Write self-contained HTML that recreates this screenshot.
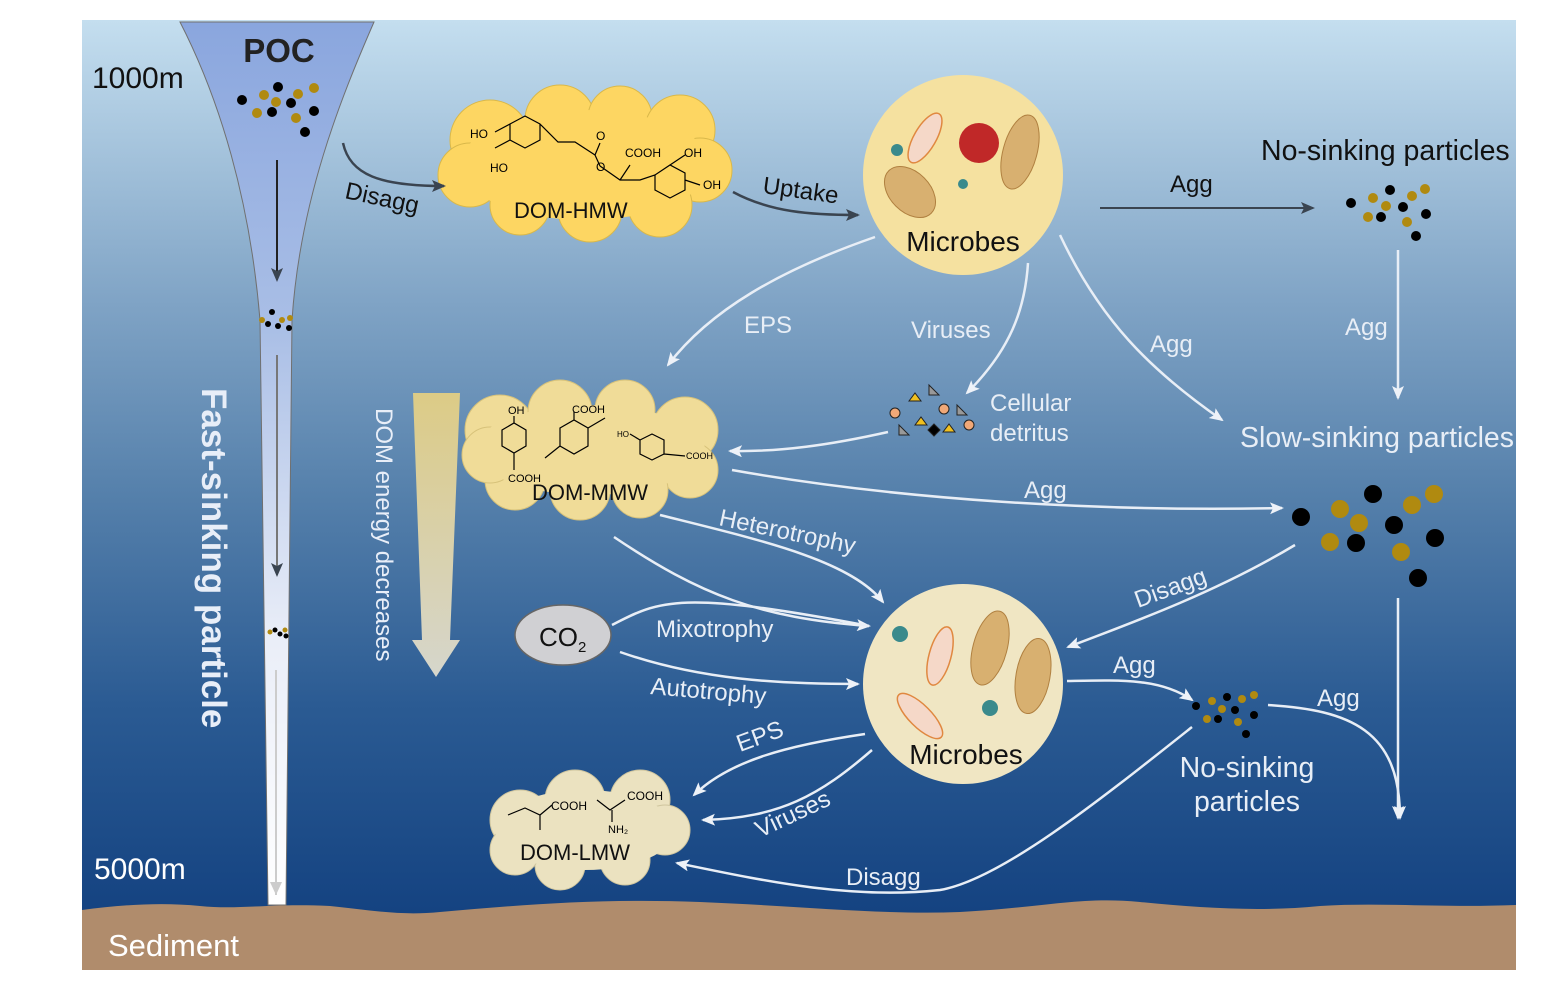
<!DOCTYPE html>
<html><head><meta charset="utf-8"><style>html,body{margin:0;padding:0;background:#fff}svg{display:block}text{font-family:"Liberation Sans",sans-serif}</style></head><body>
<svg width="1561" height="999" viewBox="0 0 1561 999" xmlns="http://www.w3.org/2000/svg">
<defs>
<linearGradient id="bg" x1="0" y1="0" x2="0" y2="1">
<stop offset="0" stop-color="#c4deef"/><stop offset="0.3" stop-color="#7fa3c5"/><stop offset="0.5" stop-color="#5580ab"/><stop offset="0.72" stop-color="#2b5b93"/><stop offset="1" stop-color="#0e3c7c"/></linearGradient>
<linearGradient id="fun" x1="0" y1="0" x2="0" y2="1"><stop offset="0" stop-color="#8aa6de"/><stop offset="0.35" stop-color="#aabfe6"/><stop offset="0.7" stop-color="#eaeef8"/><stop offset="1" stop-color="#ffffff"/></linearGradient>
<linearGradient id="en" x1="0" y1="0" x2="0" y2="1"><stop offset="0" stop-color="#dccb86"/><stop offset="1" stop-color="#d6d6cc"/></linearGradient>
<marker id="da" markerWidth="14" markerHeight="12" refX="12" refY="6" orient="auto" markerUnits="userSpaceOnUse"><path d="M0,0 L14,6 L0,12 L3,6z" fill="#3a4450"/></marker>
<marker id="wb" markerWidth="14" markerHeight="12" refX="12" refY="6" orient="auto" markerUnits="userSpaceOnUse"><path d="M0,0 L14,6 L0,12 L3,6z" fill="#eef2f8"/></marker>
</defs>
<rect x="82" y="20" width="1434" height="950" fill="url(#bg)"/>
<path d="M82,910 C120,905 160,902 200,906 C240,910 270,903 330,906 C370,910 400,916 440,912 C520,905 600,898 700,902 C800,906 880,915 960,912 C1040,908 1080,896 1140,902 C1200,908 1260,912 1320,906 C1380,902 1440,908 1516,905 L1516,970 L82,970z" fill="#b08c6c"/>
<path d="M180,22 L374,22 C340,100 300,200 292,320 L286,905 L268,905 L260,320 C250,200 220,100 180,22z" fill="url(#fun)" stroke="#707070" stroke-width="1"/>
<text x="279" y="62" font-size="33" font-weight="bold" fill="#222" text-anchor="middle">POC</text>
<g fill="#000"><circle cx="242" cy="100" r="5"/><circle cx="278" cy="87" r="5"/><circle cx="272" cy="112" r="5"/><circle cx="291" cy="103" r="5"/><circle cx="314" cy="111" r="5"/><circle cx="305" cy="132" r="5"/></g>
<g fill="#b08a10"><circle cx="264" cy="95" r="5"/><circle cx="257" cy="113" r="5"/><circle cx="276" cy="102" r="5"/><circle cx="298" cy="94" r="5"/><circle cx="314" cy="88" r="5"/><circle cx="296" cy="118" r="5"/></g>
<line x1="277" y1="160" x2="277" y2="280" stroke="#222" stroke-width="2" marker-end="url(#da)"/>
<g><circle cx="262" cy="320" r="3" fill="#b08a10"/><circle cx="272" cy="312" r="3"/><circle cx="268" cy="324" r="3"/><circle cx="282" cy="320" r="3" fill="#b08a10"/><circle cx="290" cy="318" r="3" fill="#b08a10"/><circle cx="289" cy="328" r="3"/><circle cx="278" cy="326" r="3"/></g>
<line x1="277" y1="355" x2="277" y2="575" stroke="#777" stroke-width="2" marker-end="url(#da)"/>
<g><circle cx="270" cy="632" r="2.5" fill="#b08a10"/><circle cx="275" cy="630" r="2.5"/><circle cx="280" cy="634" r="2.5"/><circle cx="285" cy="630" r="2.5" fill="#b08a10"/><circle cx="286" cy="636" r="2.5"/></g>
<line x1="276" y1="670" x2="276" y2="895" stroke="#ccc" stroke-width="2"/>
<path d="M270,882 L276,895 L282,882z" fill="#ccc"/>
<text x="92" y="88" font-size="30" fill="#111">1000m</text>
<text x="94" y="879" font-size="30" fill="#fff">5000m</text>
<text x="108" y="956" font-size="31" fill="#fff">Sediment</text>
<text transform="translate(202,388) rotate(90)" font-size="35" font-weight="bold" fill="#e8eef8">Fast-sinking particle</text>
<path d="M413,393 L460,393 L450,640 L460,640 L436,677 L412,640 L422,640z" fill="url(#en)"/>
<text transform="translate(376,408) rotate(90)" font-size="24" fill="#e8eef8">DOM energy decreases</text>
<g fill="#fdd662" stroke="#d9b84a" stroke-width="1">
<circle cx="490" cy="140" r="40"/><circle cx="560" cy="120" r="35"/><circle cx="620" cy="118" r="32"/><circle cx="680" cy="130" r="35"/><circle cx="700" cy="170" r="32"/><circle cx="660" cy="205" r="32"/><circle cx="590" cy="210" r="32"/><circle cx="520" cy="205" r="30"/><circle cx="470" cy="175" r="32"/>
</g>
<ellipse cx="585" cy="165" rx="125" ry="55" fill="#fdd662"/>
<g stroke="#000" stroke-width="1.2" fill="none">
<path d="M510,124 L525,116 L540,124 L540,140 L525,148 L510,140z M540,124 L558,142 L575,142 L595,155 M595,155 L600,143 M595,155 L600,166 M600,166 L620,180 L640,180 L655,175 L670,165 L685,173 L685,190 L670,198 L655,190 L655,175 M670,165 L685,155 M685,180 L700,185 M510,140 L495,148 M510,124 L495,132 M620,180 L630,165"/>
</g>
<g font-size="12" fill="#000"><text x="470" y="138">HO</text><text x="490" y="172">HO</text><text x="596" y="140">O</text><text x="596" y="171">O</text><text x="625" y="157">COOH</text><text x="684" y="157">OH</text><text x="703" y="189">OH</text></g>
<text x="514" y="218" font-size="22" fill="#111">DOM-HMW</text>
<g fill="#f0dc98" stroke="#d7c27a">
<circle cx="500" cy="430" r="35"/><circle cx="560" cy="412" r="32"/><circle cx="625" cy="410" r="30"/><circle cx="685" cy="430" r="33"/><circle cx="690" cy="470" r="28"/><circle cx="640" cy="490" r="28"/><circle cx="580" cy="490" r="30"/><circle cx="515" cy="480" r="30"/><circle cx="490" cy="455" r="28"/>
</g>
<ellipse cx="590" cy="450" rx="115" ry="45" fill="#f0dc98"/>
<g stroke="#000" stroke-width="1.2" fill="none"><path d="M502,430 L514,423 L526,430 L526,446 L514,453 L502,446z M514,423 L514,416 M514,453 L514,470 M560,428 L574,420 L588,428 L588,446 L574,454 L560,446z M574,420 L574,412 M588,428 L605,418 M560,446 L545,458 M640,440 L652,434 L664,440 L664,454 L652,460 L640,454z M640,440 L630,434 M664,454 L685,456"/></g>
<g font-size="11" fill="#000"><text x="508" y="414">OH</text><text x="572" y="413">COOH</text><text x="508" y="482">COOH</text><text x="617" y="437" font-size="8">HO</text><text x="686" y="459" font-size="9">COOH</text></g>
<text x="532" y="500" font-size="22" fill="#111">DOM-MMW</text>
<g fill="#ebe2c0" stroke="#cfc59e">
<circle cx="520" cy="820" r="30"/><circle cx="575" cy="800" r="30"/><circle cx="640" cy="800" r="30"/><circle cx="665" cy="830" r="25"/><circle cx="625" cy="860" r="25"/><circle cx="560" cy="865" r="25"/><circle cx="515" cy="850" r="25"/>
</g>
<ellipse cx="585" cy="830" rx="90" ry="40" fill="#ebe2c0"/>
<g stroke="#000" stroke-width="1.2" fill="none"><path d="M508,815 L525,808 L540,815 L552,805 M540,815 L540,830 M597,800 L610,810 L625,800 M612,810 L612,822"/></g>
<g font-size="12" fill="#000"><text x="551" y="810">COOH</text><text x="627" y="800">COOH</text><text x="608" y="833" font-size="11">NH₂</text></g>
<text x="520" y="860" font-size="22" fill="#111">DOM-LMW</text>
<ellipse cx="563" cy="635" rx="48" ry="30" fill="#d0d0d3" stroke="#666" stroke-width="1.5"/>
<text x="539" y="646" font-size="26" fill="#111">CO<tspan font-size="15" dy="6">2</tspan></text>
<circle cx="963" cy="175" r="100" fill="#f5e1a0"/>
<circle cx="963" cy="684" r="100" fill="#f0e6c3"/>
<g fill="#d8b070" stroke="#b08040"><ellipse cx="910" cy="192" rx="20" ry="30" transform="rotate(-45 910 192)"/><ellipse cx="1020" cy="152" rx="17" ry="38" transform="rotate(15 1020 152)"/><ellipse cx="990" cy="648" rx="17" ry="38" transform="rotate(15 990 648)"/><ellipse cx="1033" cy="676" rx="17" ry="38" transform="rotate(10 1033 676)"/></g>
<g fill="#f5d8c8" stroke="#e08840" stroke-width="1.5"><ellipse cx="925" cy="138" rx="11" ry="28" transform="rotate(30 925 138)"/><ellipse cx="940" cy="656" rx="11" ry="30" transform="rotate(15 940 656)"/><ellipse cx="920" cy="716" rx="11" ry="30" transform="rotate(-45 920 716)"/></g>
<circle cx="979" cy="143" r="20" fill="#c02828"/>
<g fill="#3a8a8c"><circle cx="897" cy="150" r="6"/><circle cx="963" cy="184" r="5"/><circle cx="900" cy="634" r="8"/><circle cx="990" cy="708" r="8"/></g>
<text x="963" y="251" font-size="28" fill="#111" text-anchor="middle">Microbes</text>
<text x="966" y="764" font-size="28" fill="#111" text-anchor="middle">Microbes</text>
<path d="M343,143 C350,175 380,186 444,186" stroke="#3a4450" stroke-width="2.5" fill="none" marker-end="url(#da)"/>
<text transform="translate(344,198) rotate(12)" font-size="24" fill="#111">Disagg</text>
<path d="M733,192 C770,212 810,215 858,215" stroke="#3a4450" stroke-width="2.5" fill="none" marker-end="url(#da)"/>
<text transform="translate(762,193) rotate(8)" font-size="24" fill="#111">Uptake</text>
<line x1="1100" y1="208" x2="1313" y2="208" stroke="#3a4450" stroke-width="2" marker-end="url(#da)"/>
<text x="1170" y="192" font-size="24" fill="#111">Agg</text>
<text x="1261" y="160" font-size="28.5" fill="#111">No-sinking particles</text>
<g fill="#000"><circle cx="1351" cy="203" r="5"/><circle cx="1390" cy="190" r="5"/><circle cx="1403" cy="207" r="5"/><circle cx="1381" cy="217" r="5"/><circle cx="1426" cy="214" r="5"/><circle cx="1416" cy="236" r="5"/></g>
<g fill="#b08a10"><circle cx="1373" cy="198" r="5"/><circle cx="1386" cy="206" r="5"/><circle cx="1368" cy="217" r="5"/><circle cx="1412" cy="196" r="5"/><circle cx="1425" cy="189" r="5"/><circle cx="1407" cy="222" r="5"/></g>
<g stroke="#e8eef6" stroke-width="2.5" fill="none" marker-end="url(#wb)">
<path d="M875,237 C780,270 710,310 668,365"/>
<path d="M1028,263 C1025,310 1010,350 967,393"/>
<path d="M1060,235 C1100,320 1150,370 1222,420"/>
<path d="M1398,250 L1398,398"/>
<path d="M888,432 C830,445 780,452 730,451"/>
<path d="M732,470 C900,500 1100,512 1282,508"/>
<path d="M660,515 C760,540 850,560 883,602"/>
<path d="M614,537 C700,595 760,618 869,626"/>
<path d="M612,625 C660,600 680,590 869,626" marker-end="none"/>
<path d="M620,652 C700,680 780,684 858,684"/>
<path d="M1295,545 C1220,590 1140,620 1068,647"/>
<path d="M1067,681 C1120,680 1160,678 1192,700"/>
<path d="M1268,705 C1350,710 1400,730 1400,818"/>
<path d="M1398,598 L1398,818"/>
<path d="M865,734 C790,745 730,760 694,795"/>
<path d="M872,750 C820,795 780,818 703,820"/>
<path d="M1192,727 C1100,800 1000,880 940,890 C850,900 760,880 677,863"/>
</g>
<g font-size="24" fill="#e8eef6">
<text x="744" y="333">EPS</text><text x="911" y="338">Viruses</text><text x="1150" y="352">Agg</text><text x="1345" y="335">Agg</text>
<text x="990" y="411">Cellular</text><text x="990" y="441">detritus</text>
<text x="1024" y="498">Agg</text>
<text transform="translate(718,525) rotate(12)">Heterotrophy</text>
<text x="656" y="637">Mixotrophy</text>
<text transform="translate(650,694) rotate(5)">Autotrophy</text>
<text transform="translate(1138,608) rotate(-20)">Disagg</text>
<text x="1113" y="673">Agg</text><text x="1317" y="706">Agg</text>
<text transform="translate(740,752) rotate(-20)">EPS</text>
<text transform="translate(760,838) rotate(-25)">Viruses</text>
<text x="846" y="885">Disagg</text>
</g>
<text x="1240" y="447" font-size="28.5" fill="#e8eef6">Slow-sinking particles</text>
<text x="1247" y="777" font-size="28.5" fill="#e8eef6" text-anchor="middle">No-sinking</text>
<text x="1247" y="811" font-size="28.5" fill="#e8eef6" text-anchor="middle">particles</text>
<g stroke="#222" stroke-width="1"><circle cx="895" cy="413" r="5" fill="#f0a878"/><circle cx="944" cy="409" r="5" fill="#f0a878"/><circle cx="969" cy="425" r="5" fill="#f0a878"/>
<path d="M909,401 L915,393 L921,401z M915,425 L921,417 L927,425z M943,432 L949,424 L955,432z" fill="#f0c020"/>
<path d="M929,385 L939,395 L929,395z M957,405 L967,415 L957,415z M899,425 L909,435 L899,435z" fill="#999"/>
<path d="M934,424 L940,430 L934,436 L928,430z" fill="#000"/></g>
<g fill="#000"><circle cx="1301" cy="517" r="9"/><circle cx="1373" cy="494" r="9"/><circle cx="1394" cy="525" r="9"/><circle cx="1356" cy="543" r="9"/><circle cx="1435" cy="538" r="9"/><circle cx="1418" cy="578" r="9"/></g>
<g fill="#b08a10"><circle cx="1340" cy="509" r="9"/><circle cx="1359" cy="523" r="9"/><circle cx="1330" cy="542" r="9"/><circle cx="1412" cy="505" r="9"/><circle cx="1434" cy="494" r="9"/><circle cx="1401" cy="552" r="9"/></g>
<g fill="#000"><circle cx="1196" cy="706" r="4"/><circle cx="1227" cy="697" r="4"/><circle cx="1235" cy="710" r="4"/><circle cx="1218" cy="719" r="4"/><circle cx="1254" cy="715" r="4"/><circle cx="1246" cy="734" r="4"/></g>
<g fill="#b08a10"><circle cx="1212" cy="701" r="4"/><circle cx="1222" cy="709" r="4"/><circle cx="1207" cy="719" r="4"/><circle cx="1242" cy="699" r="4"/><circle cx="1254" cy="695" r="4"/><circle cx="1238" cy="722" r="4"/></g>
</svg>
</body></html>
